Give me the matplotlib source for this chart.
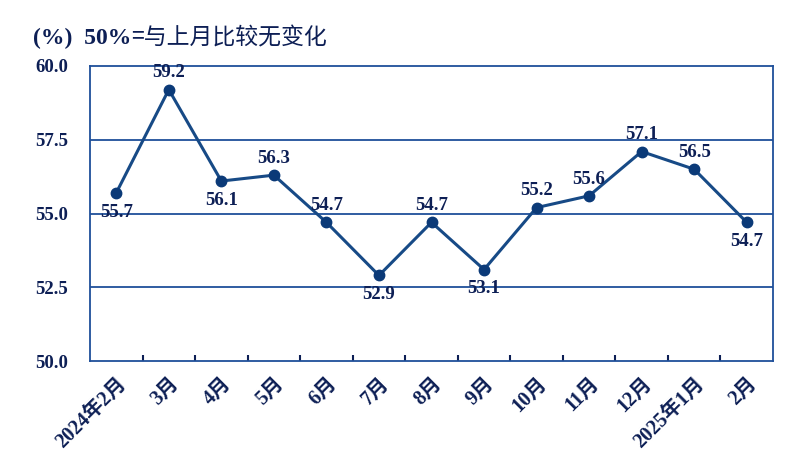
import matplotlib
matplotlib.use('Agg')
import matplotlib.pyplot as plt
from matplotlib.ticker import MultipleLocator, FixedLocator

plt.rcParams['font.family'] = ['Liberation Serif', 'Noto Sans CJK SC']

months = ['2024年2月', '3月', '4月', '5月', '6月', '7月', '8月', '9月',
          '10月', '11月', '12月', '2025年1月', '2月']
values = [55.7, 59.2, 56.1, 56.3, 54.7, 52.9, 54.7, 53.1, 55.2, 55.6, 57.1, 56.5, 54.7]
label_pos = ['below', 'above', 'below', 'above', 'above', 'below', 'above',
             'below', 'above', 'above', 'above', 'above', 'below']

navy = '#0d1f55'
line_c = '#174a86'
grid_c = '#1f4f9a'

fig = plt.figure(figsize=(8, 4.71), dpi=100)
ax = fig.add_axes([90 / 800, 1 - 361 / 471, 683 / 800, 295 / 471])

x = list(range(len(months)))
ax.plot(x, values, color=line_c, lw=2.2, marker='o', ms=7.5,
        markerfacecolor='#0b3a78', markeredgecolor='#0b3a78', zorder=3)

for i, v in enumerate(values):
    dy = 12 if label_pos[i] == 'above' else -14
    ax.annotate(f'{v:.1f}', (i, v), xytext=(0, dy), textcoords='offset points',
                ha='center', va='center', fontsize=13.5, fontweight='bold',
                color=navy, zorder=4)

ax.set_xlim(-0.5, len(months) - 0.5)
ax.set_ylim(50, 60)
ax.yaxis.set_major_locator(MultipleLocator(2.5))
ax.set_yticklabels([f'{t:.1f}' for t in ax.get_yticks()])
ax.tick_params(axis='y', length=0, pad=16, labelsize=13.5, labelcolor=navy)
for lab in ax.get_yticklabels():
    lab.set_fontweight('bold')

ax.set_xticks(x)
ax.set_xticklabels(months, rotation=45, ha='right', rotation_mode='anchor',
                   fontsize=14.5, fontweight='bold', color=navy)
ax.tick_params(axis='x', which='major', length=0, pad=9)
ax.xaxis.set_minor_locator(FixedLocator([i + 0.5 for i in range(len(months) - 1)]))
ax.tick_params(axis='x', which='minor', length=4, width=1.5, direction='in', color=navy)

for yv in [52.5, 55.0, 57.5]:
    ax.axhline(yv, color=grid_c, lw=1.3, zorder=1)
for s in ax.spines.values():
    s.set_color(grid_c)
    s.set_linewidth(1.3)

t1 = fig.text(33 / 800, 1 - 38 / 471, '(%)  50%', fontsize=17, fontweight='bold',
              color=navy, va='center', family='Liberation Serif')
ax.annotate('=与上月比较无变化', xy=(1, 0.5), xycoords=t1, xytext=(0, 0),
            textcoords='offset points', va='center', ha='left',
            fontsize=16.5, color=navy, family='Noto Sans CJK SC',
            annotation_clip=False)

fig.savefig('out.png', dpi=100)
